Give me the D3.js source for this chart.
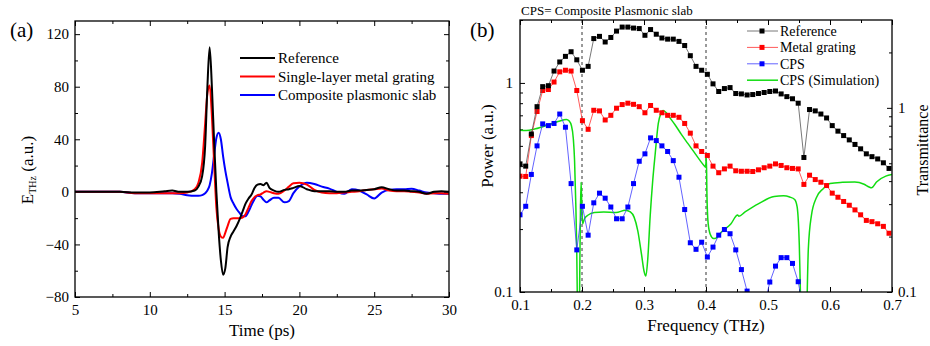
<!DOCTYPE html>
<html>
<head>
<meta charset="utf-8">
<script src="https://cdn.jsdelivr.net/npm/d3@7"></script>
<style>
  body { margin: 0; background: #fff; }
  svg text { font-family: "Liberation Serif", "Times New Roman", serif; font-weight: normal; fill: #000; }
</style>
</head>
<body>
<div id="chart"></div>
<script>
// ---- panel (a): THz field in time domain ----
const timePs = [5, 6, 7, 8, 9, 10, 11, 11.5, 12, 12.5, 13, 13.25, 13.5, 13.7, 13.85,
  14.0, 14.15, 14.3, 14.45, 14.6, 14.75, 14.9, 15.05, 15.2, 15.4, 15.6, 15.8,
  16.0, 16.2, 16.4, 16.6, 16.8, 17.0, 17.2, 17.4, 17.6, 17.8, 18.0, 18.3, 18.6,
  19.0, 19.3, 19.6, 20.0, 20.5, 21.0, 21.5, 22.0, 22.5, 23.0, 23.5, 24.0, 24.5,
  25.0, 25.5, 26.0, 26.5, 27.0, 27.5, 28.0, 28.5, 29.0, 29.5, 30];
const refField = [0, 0, 0, 0, -0.5, -0.5, 0.5, 1, 0, 0, 1, 4, 12, 35, 80,
  110, 80, 38, 0, -30, -52, -63, -58, -42, -34, -30, -26,
  -21, -15, -9, -5, -2, 3, 5.5, 6, 5, 7, 3, 1, 0,
  1.5, 2, 3, 4.5, 2, 0.5, 0.5, 0.5, 0, 0, 1, 1, 1.5,
  2, 3.5, 2, 1, 1, 0.5, 0, -1.5, 0, 0.5, 0];
const gratingField = [0, 0, 0, 0, -1, -1, -1, -1, -1, -0.5, 2, 7, 22, 52, 75,
  81, 58, 22, -12, -28, -34, -35, -31, -26, -20.5, -20, -20,
  -20, -19.5, -17, -12, -7, -4, -2.5, -2, -0.5, 0.5, 0, -1, -1.5,
  1, 4, 6.5, 7, 5.5, 1.5, -0.5, -1, -1, -0.5, 0, 0.5, 1.5,
  2, 2.5, 1, 0.5, 0.5, 0, -0.5, -1.5, -1, -1, -1.5];
const slabField = [0, 0, 0, 0, -1, -1, -1, -1, -1.5, -2.5, -3, -3, -2.5, -1, 1,
  5, 14, 28, 41, 45, 40, 27, 16, 7, -4, -9, -13,
  -16, -18.5, -18.5, -15, -10, -5.5, -3, -3.5, -6, -8, -6.5, -4.5, -4.5,
  -8, -7, -1, 4, 7, 6, 4, 2.5, 0, -1.5, 2, 1, -2,
  -5, -0.5, 1.5, 2, 2, 2.3, 1, -0.5, -1, -1.5, -1.5];
const timeTicks = [5, 10, 15, 20, 25, 30];
const fieldTicks = [-80, -40, 0, 40, 80, 120];

// ---- panel (b): power spectra and simulated transmittance ----
const freqTHz = [0.1000, 0.1092, 0.1183, 0.1275, 0.1366, 0.1458, 0.1549, 0.1641, 0.1733, 0.1824,
  0.1916, 0.2007, 0.2099, 0.2190, 0.2282, 0.2374, 0.2465, 0.2557, 0.2648, 0.2740,
  0.2831, 0.2923, 0.3015, 0.3106, 0.3198, 0.3289, 0.3381, 0.3472, 0.3564, 0.3656,
  0.3747, 0.3839, 0.3930, 0.4022, 0.4113, 0.4205, 0.4297, 0.4388, 0.4480, 0.4571,
  0.4663, 0.4754, 0.4846, 0.4938, 0.5029, 0.5121, 0.5212, 0.5304, 0.5395, 0.5487,
  0.5579, 0.5670, 0.5762, 0.5853, 0.5945, 0.6036, 0.6128, 0.6220, 0.6311, 0.6403,
  0.6494, 0.6586, 0.6677, 0.6769, 0.6861, 0.6952];
const refPower = [0.41, 0.40, 0.57, 0.77, 0.96, 0.97, 1.14, 1.26, 1.34, 1.41,
  1.29, 1.15, 1.20, 1.63, 1.67, 1.57, 1.65, 1.77, 1.85, 1.85,
  1.83, 1.82, 1.69, 1.80, 1.71, 1.64, 1.62, 1.62, 1.58, 1.51,
  1.35, 1.20, 1.15, 1.10, 0.99, 0.91, 0.94, 0.95, 0.89, 0.886,
  0.876, 0.88, 0.89, 0.90, 0.91, 0.915, 0.886, 0.86, 0.84, 0.80,
  0.44, 0.746, 0.735, 0.71, 0.68, 0.625, 0.588, 0.56, 0.534, 0.508,
  0.484, 0.458, 0.444, 0.433, 0.415, 0.39];
const gratingPower = [0.358, 0.357, 0.56, 0.73, 0.92, 0.93, 1.01, 1.13, 1.15, 1.14,
  0.92, 0.66, 0.60, 0.74, 0.735, 0.665, 0.70, 0.757, 0.788, 0.80,
  0.79, 0.77, 0.72, 0.78, 0.74, 0.72, 0.70, 0.70, 0.685, 0.64,
  0.575, 0.50, 0.47, 0.45, 0.40, 0.372, 0.388, 0.40, 0.38, 0.378,
  0.378, 0.377, 0.384, 0.393, 0.40, 0.41, 0.403, 0.393, 0.39, 0.388,
  0.327, 0.362, 0.345, 0.335, 0.323, 0.297, 0.284, 0.271, 0.26, 0.247,
  0.234, 0.22, 0.217, 0.212, 0.206, 0.191];
// CPS drops below the 0.1 floor past ~0.56 THz, nothing is visible there
const cpsPower = [0.234, 0.257, 0.365, 0.50, 0.637, 0.625, 0.64, 0.71, 0.614, 0.33,
  0.159, 0.257, 0.187, 0.267, 0.297, 0.281, 0.255, 0.224, 0.224, 0.255,
  0.33, 0.422, 0.458, 0.546, 0.53, 0.50, 0.47, 0.425, 0.354, 0.248,
  0.172, 0.16, 0.173, 0.147, 0.164, 0.187, 0.199, 0.19, 0.159, 0.128,
  0.101, 0.08, 0.075, 0.085, 0.1116, 0.133, 0.146, 0.146, 0.137, 0.112,
  0.08, null, null, null, null, null, null, null, null, null,
  null, null, null, null, null, null];
const simFreqTHz = [0.100, 0.110, 0.125, 0.145, 0.160, 0.170, 0.175, 0.179, 0.183, 0.186,
  0.188, 0.190, 0.1915, 0.1925, 0.194, 0.1955, 0.1965, 0.1975, 0.1985, 0.1995,
  0.201, 0.204, 0.210, 0.220, 0.235, 0.255, 0.270, 0.278, 0.284, 0.290,
  0.296, 0.300, 0.303, 0.306, 0.310, 0.314, 0.318, 0.323, 0.327, 0.331,
  0.336, 0.340, 0.350, 0.360, 0.370, 0.380, 0.390, 0.396, 0.3995, 0.4005,
  0.4015, 0.4035, 0.407, 0.412, 0.416, 0.425, 0.440, 0.451, 0.453, 0.463,
  0.485, 0.510, 0.525, 0.535, 0.543, 0.547, 0.549, 0.5505, 0.552, 0.554,
  0.557, 0.561, 0.563, 0.565, 0.570, 0.578, 0.589, 0.600, 0.620, 0.640,
  0.655, 0.663, 0.667, 0.675, 0.690, 0.700];
const simTrans = [0.755, 0.753, 0.77, 0.808, 0.84, 0.86, 0.865, 0.85, 0.80, 0.68,
  0.52, 0.30, 0.17, 0.09, 0.04, 0.06, 0.14, 0.28, 0.395, 0.31,
  0.235, 0.25, 0.262, 0.27, 0.272, 0.27, 0.278, 0.272, 0.255, 0.215,
  0.16, 0.13, 0.122, 0.15, 0.26, 0.40, 0.56, 0.82, 0.93, 0.967,
  0.94, 0.90, 0.81, 0.72, 0.645, 0.58, 0.52, 0.49, 0.476, 0.55,
  0.34, 0.235, 0.205, 0.195, 0.196, 0.212, 0.234, 0.262, 0.258, 0.272,
  0.302, 0.33, 0.333, 0.328, 0.318, 0.29, 0.24, 0.18, 0.11, 0.05,
  0.03, 0.04, 0.09, 0.17, 0.26, 0.325, 0.364, 0.388, 0.394, 0.396,
  0.385, 0.372, 0.368, 0.396, 0.426, 0.434];
const freqTicks = [0.1, 0.2, 0.3, 0.4, 0.5, 0.6, 0.7];
const markerLines = [0.2, 0.4];

const width = 930;
const height = 346;
const serif = "Liberation Serif";

const svg = d3
  .select("#chart")
  .append("svg")
  .attr("width", width)
  .attr("height", height);

// draw inward ticks on a frame; minor ticks have no labels
function inwardAxis(g, axisFn, scale, major, minor, fmt, pad) {
  g.call(axisFn(scale).tickValues(minor).tickSize(-3).tickFormat(""));
  const m = g.append("g").call(
    axisFn(scale).tickValues(major).tickSize(-5).tickPadding(pad).tickFormat(fmt)
  );
  g.attr("font-family", serif);
  m.attr("font-family", serif).attr("font-size", 15);
  g.selectAll(".domain").remove();
  g.selectAll("line").attr("stroke", "#000").attr("stroke-width", 1);
  m.selectAll("text").attr("font-size", 15).attr("fill", "#000")
    .attr("font-family", serif);
  return g;
}

// small helper so every label carries the serif face explicitly
function label(x, y, size, str) {
  return svg.append("text")
    .attr("x", x).attr("y", y)
    .attr("font-family", serif)
    .attr("font-size", size)
    .text(str);
}

// ================= panel (a) =================
const a = { left: 75, right: 449, top: 21, bottom: 297 };
const xA = d3.scaleLinear().domain([5, 30]).range([a.left, a.right]);
const yA = d3.scaleLinear().domain([-80, 130]).range([a.bottom, a.top]);

svg.append("clipPath").attr("id", "clipA").append("rect")
  .attr("x", a.left).attr("y", a.top)
  .attr("width", a.right - a.left).attr("height", a.bottom - a.top);

const minorTime = d3.range(7.5, 30, 5);
const minorField = d3.range(-60, 130, 40);

inwardAxis(svg.append("g").attr("transform", `translate(0,${a.bottom})`),
  d3.axisBottom, xA, timeTicks, minorTime, d3.format("d"), 7);
inwardAxis(svg.append("g").attr("transform", `translate(0,${a.top})`),
  d3.axisTop, xA, timeTicks, minorTime, () => "", 0);
inwardAxis(svg.append("g").attr("transform", `translate(${a.left},0)`),
  d3.axisLeft, yA, fieldTicks, minorField, d3.format("d"), 6);
inwardAxis(svg.append("g").attr("transform", `translate(${a.right},0)`),
  d3.axisRight, yA, fieldTicks, minorField, () => "", 0);

const seriesA = [
  { name: "Reference", values: refField, color: "#000000" },
  { name: "Single-layer metal grating", values: gratingField, color: "#ff0000" },
  { name: "Composite plasmonic slab", values: slabField, color: "#0000ff" },
];

const lineA = d3.line()
  .x((d, i) => xA(timePs[i]))
  .y((d) => yA(d))
  .curve(d3.curveMonotoneX);

// draw blue first, then red, black on top like the original
[2, 1, 0].forEach((k) => {
  svg.append("path")
    .datum(seriesA[k].values)
    .attr("clip-path", "url(#clipA)")
    .attr("d", lineA)
    .attr("fill", "none")
    .attr("stroke", seriesA[k].color)
    .attr("stroke-width", 2);
});

svg.append("rect")
  .attr("x", a.left).attr("y", a.top)
  .attr("width", a.right - a.left).attr("height", a.bottom - a.top)
  .attr("fill", "none").attr("stroke", "#000").attr("stroke-width", 1.3);

// legend (a)
seriesA.forEach((s, i) => {
  const y = 58 + i * 18.5;
  svg.append("line").attr("x1", 240).attr("x2", 275).attr("y1", y).attr("y2", y)
    .attr("stroke", s.color).attr("stroke-width", 2);
  label(278, y + 5, 15, s.name);
});

label(10, 37, 21, "(a)");
label(xA(17.5), 336, 17, "Time (ps)").attr("text-anchor", "middle");
const yLabA = svg.append("text")
  .attr("transform", "translate(33,170) rotate(-90)")
  .attr("text-anchor", "middle").attr("font-size", 17).attr("font-family", serif);
yLabA.append("tspan").text("E");
yLabA.append("tspan").attr("font-size", 10).attr("dy", 3).text("THz");
yLabA.append("tspan").attr("dy", -3).text(" (a.u.)");

// ================= panel (b) =================
const b = { left: 520, right: 892, top: 20, bottom: 292 };
const xB = d3.scaleLinear().domain([0.1, 0.7]).range([b.left, b.right]);
const yPow = d3.scaleLog().domain([0.1, 2]).range([b.bottom, b.top]);
const yTr = d3.scaleLog().domain([0.1, 3]).range([b.bottom, b.top]);

svg.append("clipPath").attr("id", "clipB").append("rect")
  .attr("x", b.left).attr("y", b.top)
  .attr("width", b.right - b.left).attr("height", b.bottom - b.top);

const minorFreq = d3.range(0.15, 0.7, 0.1);
const minorLog = [0.2, 0.3, 0.4, 0.5, 0.6, 0.7, 0.8, 0.9, 2];
const logFmt = (d) => (d === 1 ? "1" : "0.1");

inwardAxis(svg.append("g").attr("transform", `translate(0,${b.bottom})`),
  d3.axisBottom, xB, freqTicks, minorFreq, d3.format(".1f"), 7);
inwardAxis(svg.append("g").attr("transform", `translate(0,${b.top})`),
  d3.axisTop, xB, freqTicks, minorFreq, () => "", 0);
inwardAxis(svg.append("g").attr("transform", `translate(${b.left},0)`),
  d3.axisLeft, yPow, [0.1, 1], minorLog, logFmt, 7);
inwardAxis(svg.append("g").attr("transform", `translate(${b.right},0)`),
  d3.axisRight, yTr, [0.1, 1], minorLog, logFmt, 6);

// dashed guides at 0.2 and 0.4 THz
svg.selectAll("line.guide")
  .data(markerLines)
  .enter()
  .append("line")
  .attr("class", "guide")
  .attr("x1", (d) => xB(d)).attr("x2", (d) => xB(d))
  .attr("y1", b.top).attr("y2", b.bottom)
  .attr("stroke", "#000").attr("stroke-width", 0.8)
  .attr("stroke-dasharray", "3,3");

const plotB = svg.append("g").attr("clip-path", "url(#clipB)");

// simulated transmittance on the right axis
plotB.append("path")
  .datum(simTrans)
  .attr("d", d3.line()
    .x((d, i) => xB(simFreqTHz[i]))
    .y((d) => yTr(d))
    .curve(d3.curveMonotoneX))
  .attr("fill", "none")
  .attr("stroke", "#11dd11")
  .attr("stroke-width", 1.5);

const seriesB = [
  { name: "Reference", values: refPower, color: "#000000", lineColor: "#555555" },
  { name: "Metal grating", values: gratingPower, color: "#ff0000", lineColor: "#ff3030" },
  { name: "CPS", values: cpsPower, color: "#0000ff", lineColor: "#3b3bff" },
];

const lineB = d3.line()
  .defined((d) => d !== null)
  .x((d, i) => xB(freqTHz[i]))
  .y((d) => yPow(d));

[2, 1, 0].forEach((k) => {
  const s = seriesB[k];
  plotB.append("path")
    .datum(s.values)
    .attr("d", lineB)
    .attr("fill", "none")
    .attr("stroke", s.lineColor)
    .attr("stroke-width", 0.8);
  plotB.selectAll(null)
    .data(s.values.map((v, i) => [freqTHz[i], v]).filter((p) => p[1] !== null))
    .enter()
    .append("rect")
    .attr("x", (p) => xB(p[0]) - 2.5)
    .attr("y", (p) => yPow(p[1]) - 2.5)
    .attr("width", 5)
    .attr("height", 5)
    .attr("fill", s.color);
});

svg.append("rect")
  .attr("x", b.left).attr("y", b.top)
  .attr("width", b.right - b.left).attr("height", b.bottom - b.top)
  .attr("fill", "none").attr("stroke", "#000").attr("stroke-width", 1.3);

// legend (b)
const legendB = [...seriesB, { name: "CPS (Simulation)", color: null, lineColor: "#11dd11" }];
legendB.forEach((s, i) => {
  const y = 31 + i * 16.4;
  svg.append("line").attr("x1", 747).attr("x2", 778).attr("y1", y).attr("y2", y)
    .attr("stroke", s.lineColor).attr("stroke-width", s.color ? 0.8 : 1.5);
  if (s.color) {
    svg.append("rect").attr("x", 762 - 2.5).attr("y", y - 2.5)
      .attr("width", 5).attr("height", 5).attr("fill", s.color);
  }
  label(780, y + 5, 14, s.name);
});

label(470, 37, 21, "(b)");
label(521, 15, 13, "CPS= Composite Plasmonic slab");
label(xB(0.4), 331, 17, "Frequency (THz)").attr("text-anchor", "middle");
svg.append("text")
  .attr("transform", "translate(493,146) rotate(-90)")
  .attr("text-anchor", "middle").attr("font-size", 17).attr("font-family", serif)
  .text("Power (a.u.)");
// the original crops this title at the page edge; keep it just inside
svg.append("text")
  .attr("transform", "translate(928,150) rotate(-90)")
  .attr("text-anchor", "middle").attr("font-size", 16).attr("font-family", serif)
  .text("Transmittance");
</script>
</body>
</html>
